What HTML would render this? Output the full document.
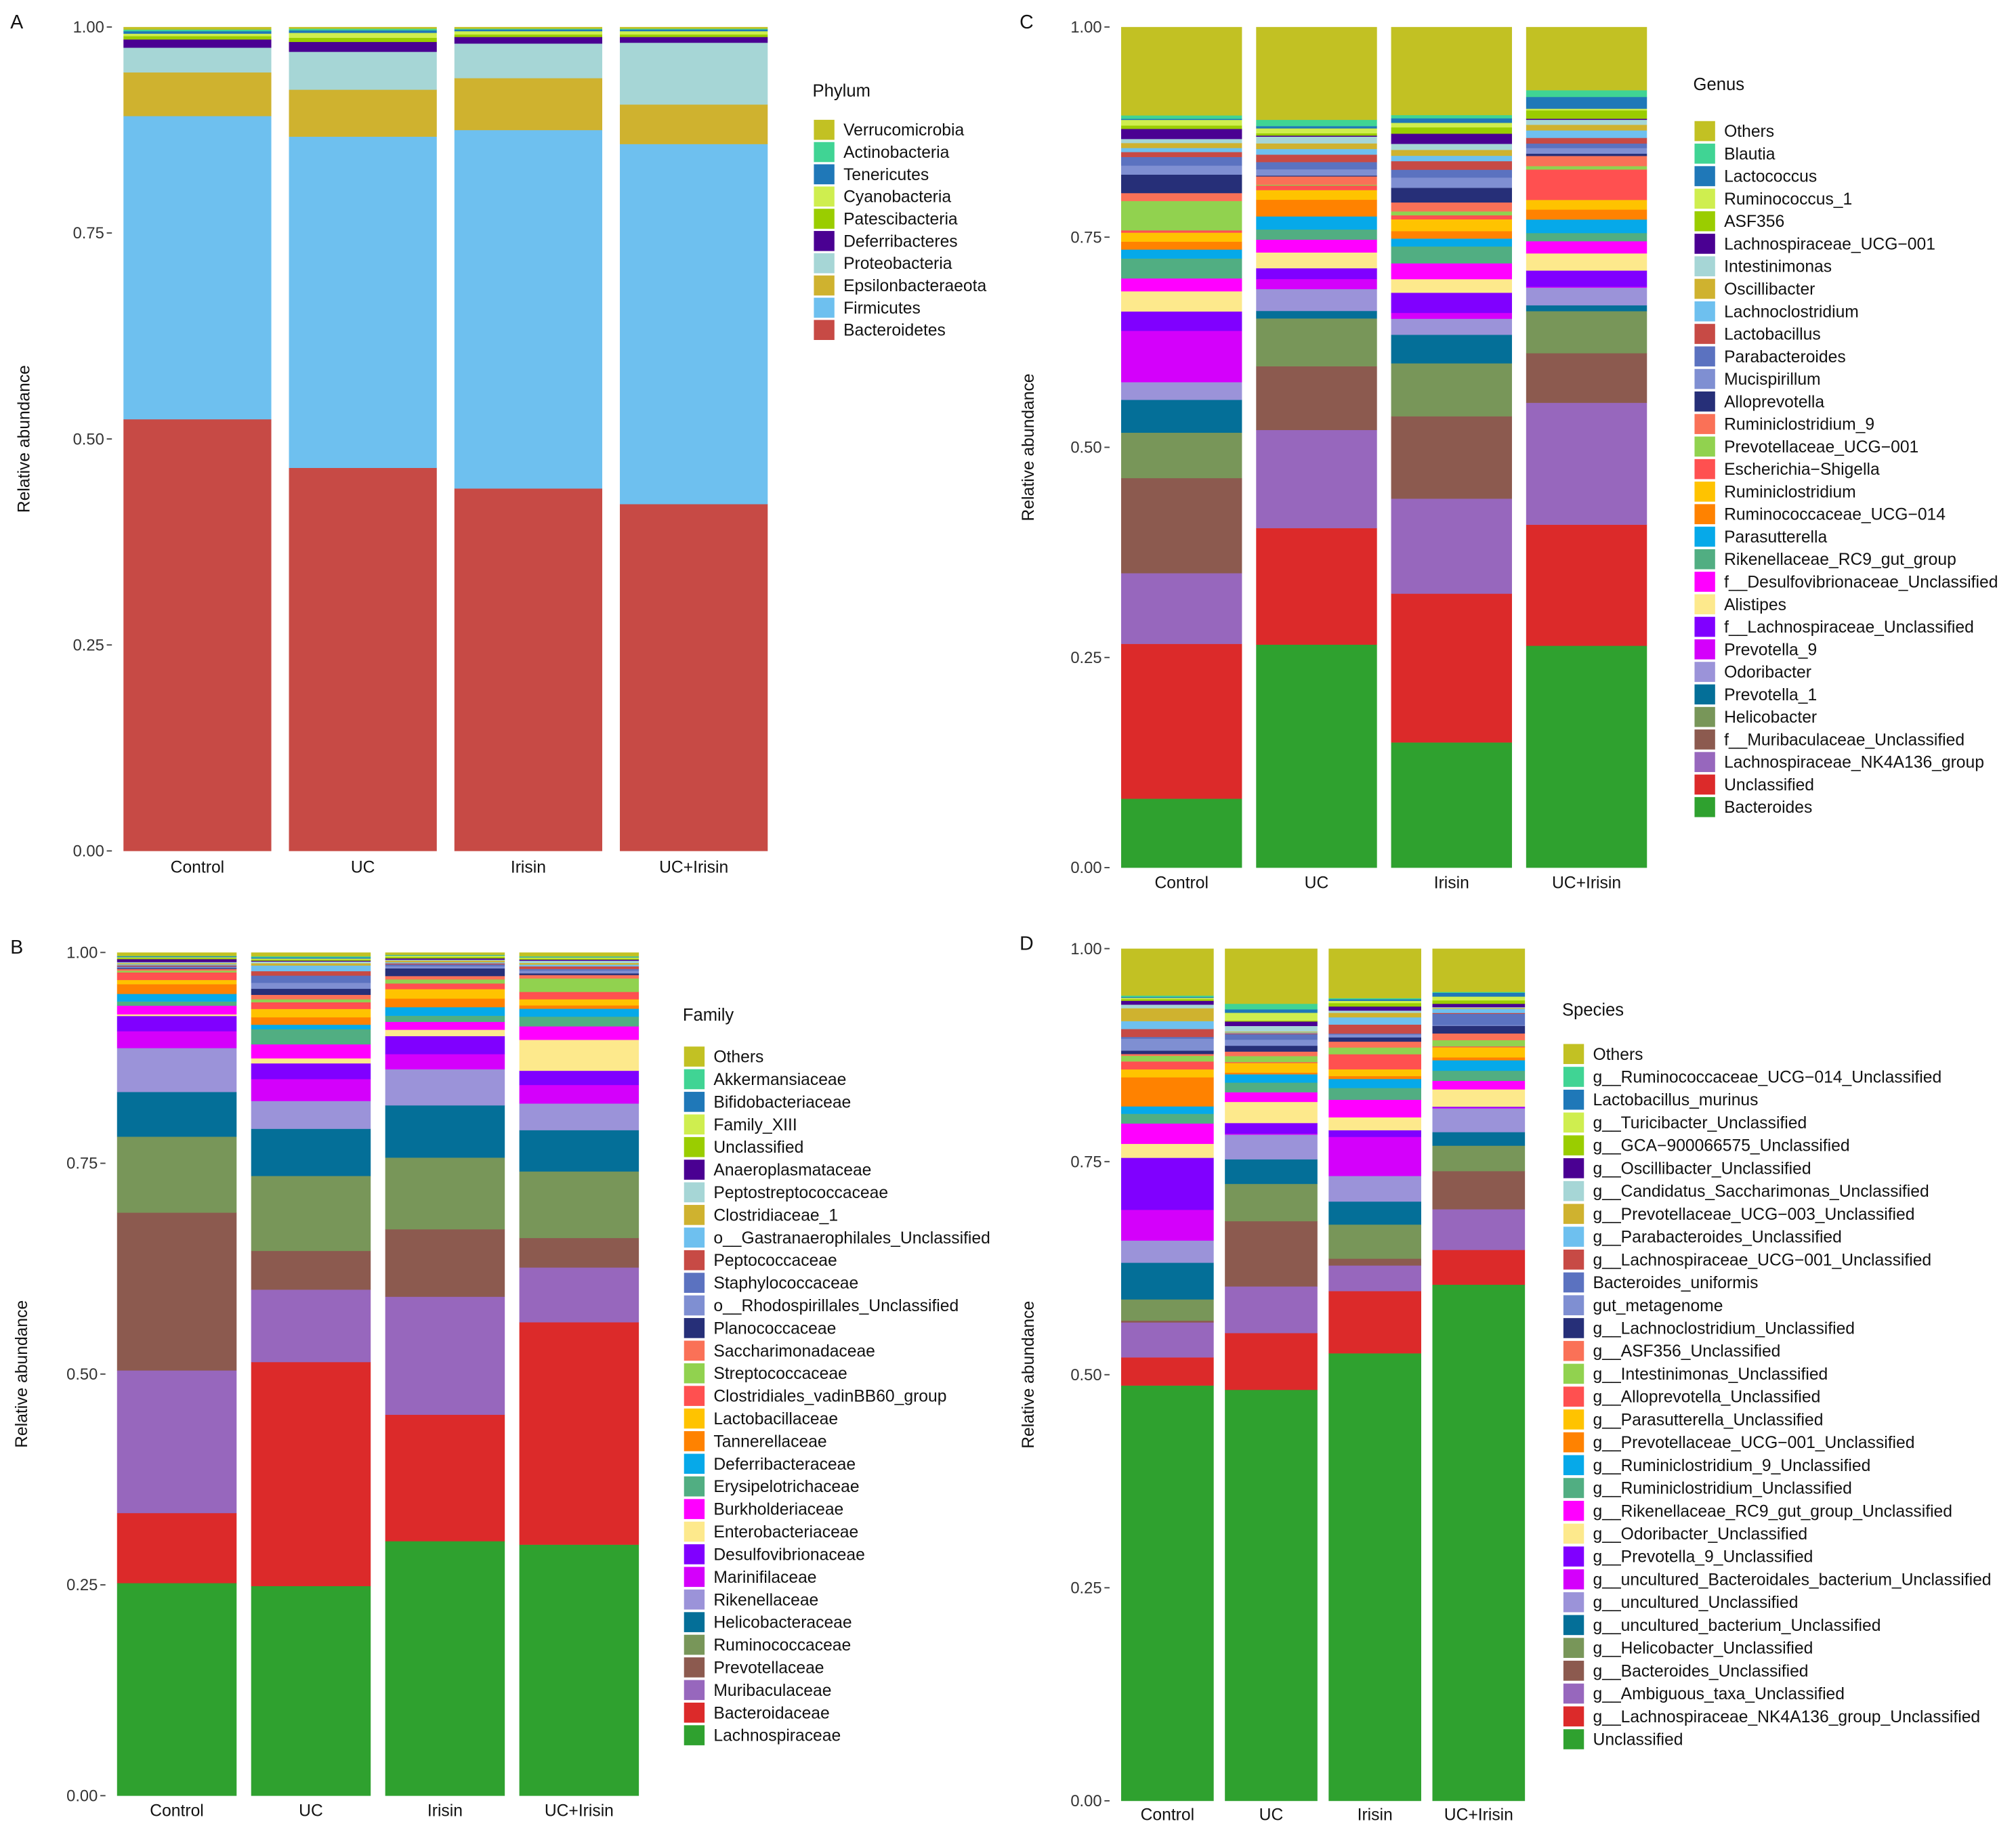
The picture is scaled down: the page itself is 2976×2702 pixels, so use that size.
<!DOCTYPE html>
<html><head><meta charset="utf-8">
<style>
html,body{margin:0;padding:0;background:#fff;}
svg{display:block;font-family:"Liberation Sans",Arial,sans-serif;}
</style></head>
<body>
<svg id="fig" xmlns="http://www.w3.org/2000/svg" width="2976" height="2702" viewBox="0 0 1568 1423.7"></svg>
<script>
// ---------- shared data ----------
const groups = ["Control","UC","Irisin","UC+Irisin"];
// colours, listed bottom-to-top of the stacks
const palette = ["#2fa12f","#dc2a2a","#9767bd","#8c5a4f","#789659","#046f98","#9b93d9","#d400fb","#8000ff","#fde98c","#ff00ff","#51ae82","#06a9e9","#ff8200","#ffc300","#ff5050","#91d24f","#fa7157","#262f78","#7f8fd2","#5b72c0","#c74a45","#6ec0ef","#cfb22f","#a6d6d6","#4a0092","#9acd00","#cfee4f","#1f78b8","#40d494","#c2c123"];
const yTicks = [0,0.25,0.5,0.75,1];
const yTickLabels = ["0.00","0.25","0.50","0.75","1.00"];

// ---------- Panel A: phylum (bottom-to-top) ----------
const aTaxa = ["Bacteroidetes","Firmicutes","Epsilonbacteraeota","Proteobacteria","Deferribacteres","Patescibacteria","Cyanobacteria","Tenericutes","Actinobacteria","Verrucomicrobia"];
const aControl = [0.524,0.368,0.053,0.030,0.010,0.004,0.003,0.003,0.002,0.003];
const aUC = [0.465,0.402,0.057,0.046,0.012,0.005,0.006,0.003,0.002,0.002];
const aIrisin = [0.440,0.435,0.063,0.042,0.008,0.003,0.004,0.002,0.001,0.002];
const aUCIrisin = [0.421,0.437,0.048,0.075,0.007,0.003,0.004,0.002,0.001,0.002];

// ---------- Panel B: family ----------
const bTaxa = ["Lachnospiraceae","Bacteroidaceae","Muribaculaceae","Prevotellaceae","Ruminococcaceae","Helicobacteraceae","Rikenellaceae","Marinifilaceae","Desulfovibrionaceae","Enterobacteriaceae","Burkholderiaceae","Erysipelotrichaceae","Deferribacteraceae","Tannerellaceae","Lactobacillaceae","Clostridiales_vadinBB60_group","Streptococcaceae","Saccharimonadaceae","Planococcaceae","o__Rhodospirillales_Unclassified","Staphylococcaceae","Peptococcaceae","o__Gastranaerophilales_Unclassified","Clostridiaceae_1","Peptostreptococcaceae","Anaeroplasmataceae","Unclassified","Family_XIII","Bifidobacteriaceae","Akkermansiaceae","Others"];
const bControl = [0.252,0.083,0.169,0.187,0.090,0.053,0.052,0.020,0.018,0.002,0.0102,0.005,0.009,0.0115,0.005,0.009,0.002,0.002,0.001,0.001,0.001,0.0013,0.0013,0.0013,0.0013,0.0035,0.0013,0.001,0.001,0.0005,0.004];
const bUC = [0.249,0.266,0.086,0.046,0.089,0.056,0.033,0.026,0.0187,0.006,0.0166,0.018,0.0053,0.0088,0.0099,0.008,0.0035,0.0053,0.0072,0.007,0.0086,0.0053,0.0067,0.0027,0.002,0.001,0.0013,0.0013,0.0013,0.0013,0.0045];
const bIrisin = [0.302,0.150,0.140,0.080,0.085,0.062,0.0428,0.018,0.0214,0.0075,0.0094,0.0072,0.0102,0.0102,0.0112,0.0067,0.0048,0.004,0.0091,0.0027,0.002,0.0013,0.0013,0.002,0.001,0.0016,0.0016,0.0016,0.0005,0.0005,0.0027];
const bUCIrisin = [0.298,0.264,0.065,0.035,0.079,0.049,0.0316,0.022,0.0169,0.0367,0.016,0.0115,0.0094,0.004,0.0072,0.0088,0.016,0.004,0.002,0.0032,0.002,0.0032,0.002,0.0019,0.0027,0.0013,0.0013,0.0013,0.0005,0.0008,0.0045];

// ---------- Panel C: genus ----------
const cTaxa = ["Bacteroides","Unclassified","Lachnospiraceae_NK4A136_group","f__Muribaculaceae_Unclassified","Helicobacter","Prevotella_1","Odoribacter","Prevotella_9","f__Lachnospiraceae_Unclassified","Alistipes","f__Desulfovibrionaceae_Unclassified","Rikenellaceae_RC9_gut_group","Parasutterella","Ruminococcaceae_UCG\u2212014","Ruminiclostridium","Escherichia\u2212Shigella","Prevotellaceae_UCG\u2212001","Ruminiclostridium_9","Alloprevotella","Mucispirillum","Parabacteroides","Lactobacillus","Lachnoclostridium","Oscillibacter","Intestinimonas","Lachnospiraceae_UCG\u2212001","ASF356","Ruminococcus_1","Lactococcus","Blautia","Others"];
const cControl = [0.082,0.184,0.084,0.113,0.054,0.039,0.021,0.061,0.023,0.024,0.0153,0.0236,0.0107,0.0094,0.0107,0.0027,0.0349,0.0094,0.022,0.0107,0.0102,0.0059,0.0048,0.0059,0.0048,0.012,0.004,0.0067,0.0013,0.004,0.105];
const cUC = [0.266,0.139,0.117,0.076,0.057,0.009,0.026,0.012,0.0129,0.0188,0.0153,0.0121,0.0156,0.0199,0.0115,0.0054,0.001,0.0099,0.001,0.0075,0.0086,0.0089,0.0067,0.0067,0.008,0.0013,0.0027,0.0059,0.0027,0.0075,0.1106];
const cIrisin = [0.149,0.177,0.113,0.098,0.063,0.034,0.019,0.007,0.024,0.0161,0.0188,0.0201,0.0094,0.0089,0.014,0.0048,0.0046,0.0107,0.0174,0.0121,0.0094,0.0102,0.0064,0.007,0.0072,0.0121,0.0075,0.0054,0.0054,0.0038,0.1047];
const cUCIrisin = [0.264,0.144,0.145,0.059,0.050,0.007,0.021,0.001,0.0193,0.0204,0.0145,0.0097,0.0161,0.0118,0.0115,0.0362,0.004,0.0121,0.0027,0.0067,0.0054,0.0067,0.0089,0.0067,0.0059,0.0013,0.0099,0.002,0.014,0.008,0.0751];

// ---------- Panel D: species ----------
const dTaxa = ["Unclassified","g__Lachnospiraceae_NK4A136_group_Unclassified","g__Ambiguous_taxa_Unclassified","g__Bacteroides_Unclassified","g__Helicobacter_Unclassified","g__uncultured_bacterium_Unclassified","g__uncultured_Unclassified","g__uncultured_Bacteroidales_bacterium_Unclassified","g__Prevotella_9_Unclassified","g__Odoribacter_Unclassified","g__Rikenellaceae_RC9_gut_group_Unclassified","g__Ruminiclostridium_Unclassified","g__Ruminiclostridium_9_Unclassified","g__Prevotellaceae_UCG\u2212001_Unclassified","g__Parasutterella_Unclassified","g__Alloprevotella_Unclassified","g__Intestinimonas_Unclassified","g__ASF356_Unclassified","g__Lachnoclostridium_Unclassified","gut_metagenome","Bacteroides_uniformis","g__Lachnospiraceae_UCG\u2212001_Unclassified","g__Parabacteroides_Unclassified","g__Prevotellaceae_UCG\u2212003_Unclassified","g__Candidatus_Saccharimonas_Unclassified","g__Oscillibacter_Unclassified","g__GCA\u2212900066575_Unclassified","g__Turicibacter_Unclassified","Lactobacillus_murinus","g__Ruminococcaceae_UCG\u2212014_Unclassified","Others"];
const dControl = [0.487,0.033,0.041,0.002,0.025,0.043,0.026,0.036,0.061,0.0164,0.0238,0.0114,0.0087,0.0341,0.0093,0.0093,0.0066,0.0021,0.004,0.014,0.002,0.0093,0.0093,0.0151,0.0042,0.0045,0.002,0.0015,0.001,0.0016,0.055];
const dUC = [0.485,0.067,0.055,0.077,0.044,0.029,0.0291,0.001,0.0127,0.0249,0.0114,0.0114,0.0098,0.002,0.0114,0.001,0.0071,0.0053,0.0069,0.0071,0.0066,0.001,0.001,0.001,0.0066,0.0053,0.001,0.0093,0.004,0.0066,0.065];
const dIrisin = [0.525,0.073,0.030,0.008,0.040,0.027,0.030,0.0458,0.0079,0.0151,0.0206,0.0138,0.0106,0.0034,0.0079,0.0177,0.0079,0.0069,0.005,0.0034,0.001,0.0106,0.0085,0.0053,0.0026,0.0048,0.004,0.0026,0.0019,0.0013,0.058];
const dUCIrisin = [0.609,0.041,0.048,0.045,0.030,0.016,0.028,0.001,0.001,0.0204,0.0101,0.0119,0.0124,0.0034,0.0119,0.001,0.0074,0.0079,0.009,0.001,0.0132,0.001,0.0048,0.001,0.001,0.004,0.004,0.0045,0.0045,0.001,0.051];

// ---------- rendering ----------
const NS = "http://www.w3.org/2000/svg";
const svg = document.getElementById("fig");
function mk(tag, attrs, parent){
  const e = document.createElementNS(NS, tag);
  for (const k in attrs) e.setAttribute(k, attrs[k]);
  (parent||svg).appendChild(e);
  return e;
}

const panels = [
  {id:"a", letter:"A", lx:8, ly:22, title:"Phylum", taxa:aTaxa, series:[aControl,aUC,aIrisin,aUCIrisin], colors:palette.slice(21),
   y0:662, y1:21, barLeft:96, step:128.7, barW:115, tickX:86, axisTitleX:23, xLabY:679,
   legX:633, legTitleY:75, legY0:101, legStep:17.3},
  {id:"b", letter:"B", lx:8, ly:742, title:"Family", taxa:bTaxa, series:[bControl,bUC,bIrisin,bUCIrisin], colors:palette,
   y0:1397, y1:741, barLeft:91, step:104.3, barW:93, tickX:81, axisTitleX:21, xLabY:1413,
   legX:532, legTitleY:794, legY0:822, legStep:17.6},
  {id:"c", letter:"C", lx:793, ly:22, title:"Genus", taxa:cTaxa, series:[cControl,cUC,cIrisin,cUCIrisin], colors:palette,
   y0:675, y1:21, barLeft:872, step:105, barW:94, tickX:862, axisTitleX:804, xLabY:691,
   legX:1318, legTitleY:70, legY0:102, legStep:17.53},
  {id:"d", letter:"D", lx:793, ly:739, title:"Species", taxa:dTaxa, series:[dControl,dUC,dIrisin,dUCIrisin], colors:palette,
   y0:1401, y1:738, barLeft:872, step:80.7, barW:72, tickX:862, axisTitleX:804, xLabY:1416,
   legX:1216, legTitleY:790, legY0:820, legStep:17.77}
];

panels.forEach(p => {
  const g = mk("g", {});
  
  
  const yScale = v => p.y0 - v * (p.y0 - p.y1);
  const xBand = i => p.barLeft + i * p.step;

  const letter = mk("text", {x:p.lx, y:p.ly, "font-size":15, fill:"#111"}, g);
  letter.textContent = p.letter;
  
  

  // y axis ticks
  yTicks.forEach((t, i) => {
    const y = yScale(t);
    const tl = mk("text", {x:p.tickX - 5, y:y + 4.3, "font-size":12.5, fill:"#333", "text-anchor":"end"}, g);
    tl.textContent = yTickLabels[i];
    
    
    const tk = mk("line", {x1:p.tickX - 3, x2:p.tickX + 1, y1:y, y2:y, stroke:"#444", "stroke-width":1}, g);
    
    
  });
  const midY = (p.y0 + p.y1) / 2;
  const at = mk("text", {x:p.axisTitleX, y:midY, "font-size":13, fill:"#111", "text-anchor":"middle", transform:`rotate(-90 ${p.axisTitleX} ${midY})`}, g);
  at.textContent = "Relative abundance";
  
  

  // bars
  p.series.forEach((vals, gi) => {
    const total = vals.reduce((s, v) => s + v, 0);
    let cum = 0;
    const x = xBand(gi);
    vals.forEach((v, ti) => {
      const top = yScale((cum + v) / total);
      const bot = yScale(cum / total);
      cum += v;
      const r = mk("rect", {x:x, y:top, width:p.barW, height:Math.max(0, bot - top + 0.15), fill:p.colors[ti]}, g);
      
      
    });
    const xl = mk("text", {x:x + p.barW / 2, y:p.xLabY, "font-size":13, fill:"#111", "text-anchor":"middle"}, g);
    xl.textContent = groups[gi];
    
    
  });

  // legend (top-to-bottom = reverse of stacking)
  const lt = mk("text", {x:p.legX - 1, y:p.legTitleY, "font-size":13.5, fill:"#111"}, g);
  lt.textContent = p.title;
  
  
  const n = p.taxa.length;
  for (let k = 0; k < n; k++) {
    const ti = n - 1 - k;
    const cy = p.legY0 + k * p.legStep;
    const sw = mk("rect", {x:p.legX, y:cy - 7.8, width:16, height:15.6, fill:p.colors[ti]}, g);
    
    
    const tx = mk("text", {x:p.legX + 23, y:cy + 4.5, "font-size":13, fill:"#111"}, g);
    tx.textContent = p.taxa[ti];
    
    
  }
});
</script>
</body></html>
